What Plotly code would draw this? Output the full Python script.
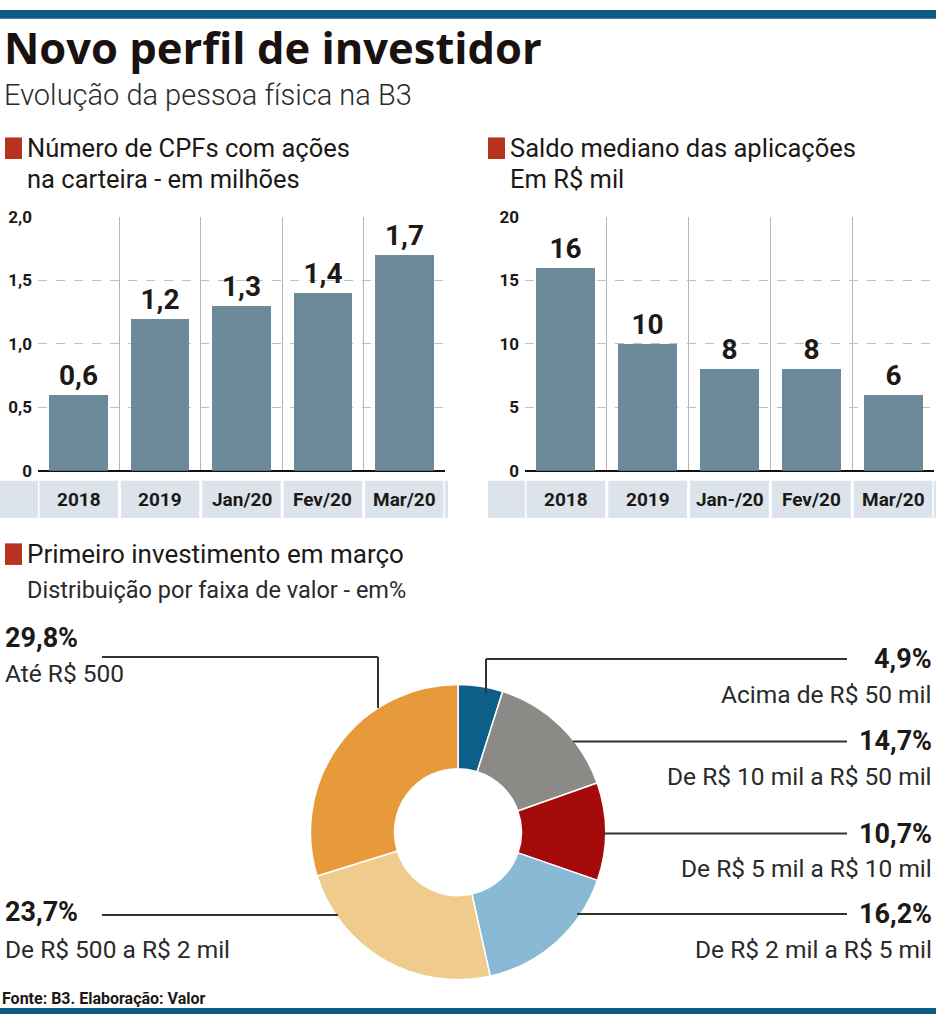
import plotly.graph_objects as go

W, H = 936, 1024

# ---- data ----
cat_left = ["2018", "2019", "Jan/20", "Fev/20", "Mar/20"]
cpf_millions = [0.6, 1.2, 1.3, 1.4, 1.7]
cpf_labels = ["0,6", "1,2", "1,3", "1,4", "1,7"]
left_ticks = [0, 0.5, 1.0, 1.5, 2.0]
left_ticktext = ["0", "0,5", "1,0", "1,5", "2,0"]

cat_right = ["2018", "2019", "Jan-/20", "Fev/20", "Mar/20"]
saldo_mil = [16, 10, 8, 8, 6]
saldo_labels = ["16", "10", "8", "8", "6"]
right_ticks = [0, 5, 10, 15, 20]
right_ticktext = ["0", "5", "10", "15", "20"]

pie_labels = ["Acima de R$ 50 mil", "De R$ 10 mil a R$ 50 mil", "De R$ 5 mil a R$ 10 mil",
              "De R$ 2 mil a R$ 5 mil", "De R$ 500 a R$ 2 mil", "Até R$ 500"]
pie_values = [4.9, 14.7, 10.7, 16.2, 23.7, 29.8]
pie_pct_text = ["4,9%", "14,7%", "10,7%", "16,2%", "23,7%", "29,8%"]
pie_colors = ["#0d5f89", "#8b8a86", "#a40a0a", "#88b9d5", "#efcb8e", "#e79a3a"]

# ---- style ----
BAR = "#6c8a9a"
STRIP = "#dce3ea"
DARK = "#1c1917"
RED = "#b8331f"
NAVY = "#0b5a80"
FONT = "Roboto"


def px(x):
    return x / W


def py(y):
    return 1 - y / H


fig = go.Figure()

fig.add_trace(go.Bar(x=list(range(len(cat_left))), y=cpf_millions, text=cpf_labels,
                     textposition="outside", cliponaxis=False, width=0.72,
                     marker=dict(color=BAR, line=dict(width=0)),
                     textfont=dict(family=FONT, size=28, color=DARK, weight="bold"),
                     xaxis="x", yaxis="y", hoverinfo="skip", showlegend=False))
fig.add_trace(go.Bar(x=list(range(len(cat_right))), y=saldo_mil, text=saldo_labels,
                     textposition="outside", cliponaxis=False, width=0.72,
                     marker=dict(color=BAR, line=dict(width=0)),
                     textfont=dict(family=FONT, size=28, color=DARK, weight="bold"),
                     xaxis="x2", yaxis="y2", hoverinfo="skip", showlegend=False))

fig.add_trace(go.Pie(values=pie_values, labels=pie_labels, sort=False, direction="clockwise",
                     rotation=0, hole=0.43, textinfo="none", hoverinfo="skip",
                     marker=dict(colors=pie_colors, line=dict(color="white", width=1.5)),
                     domain=dict(x=[px(307.5), px(608.5)], y=[py(989), py(688)]),
                     showlegend=False))

ydom = [py(470), py(211)]
common_x = dict(range=[-0.5, 4.5], showticklabels=False, showgrid=False, zeroline=False,
                ticks="", fixedrange=True,
                minor=dict(tickvals=[-0.5, 0.5, 1.5, 2.5, 3.5, 4.5], showgrid=True,
                           gridcolor="#b5b5b5", gridwidth=1))
common_y = dict(showgrid=True, griddash="dash", gridcolor="#c0c0c0", gridwidth=1,
                zeroline=True, zerolinecolor="#111111", zerolinewidth=2,
                tickfont=dict(family=FONT, size=17, color=DARK, weight="bold"),
                ticks="", ticklabelstandoff=5, fixedrange=True)

fig.update_layout(
    width=W, height=H, margin=dict(l=0, r=0, t=0, b=0),
    paper_bgcolor="white", plot_bgcolor="white", bargap=0,
    xaxis=dict(domain=[px(38), px(445)], anchor="y", **common_x),
    yaxis=dict(domain=ydom, range=[0, 2.0], tickvals=left_ticks, ticktext=left_ticktext,
               anchor="x", **common_y),
    xaxis2=dict(domain=[px(525), px(934)], anchor="y2", **common_x),
    yaxis2=dict(domain=ydom, range=[0, 20], tickvals=right_ticks, ticktext=right_ticktext,
                anchor="x2", **common_y),
)

shapes = []
ann = []

# top / bottom navy bars
shapes.append(dict(type="rect", xref="paper", yref="paper", x0=0, x1=1, y0=py(9), y1=1,
                   fillcolor=NAVY, line=dict(width=0), layer="above"))
shapes.append(dict(type="rect", xref="paper", yref="paper", x0=0, x1=1, y0=0, y1=py(1018),
                   fillcolor=NAVY, line=dict(width=0), layer="above"))

# category strips
for xa, x0p, x1p, cats in (("x", 0, 448, cat_left), ("x2", 488, 936, cat_right)):
    shapes.append(dict(type="rect", xref="paper", yref="paper", x0=px(x0p), x1=px(x1p),
                       y0=py(518), y1=py(480), fillcolor=STRIP, line=dict(width=0), layer="below"))
    for v in [-0.5, 0.5, 1.5, 2.5, 3.5, 4.5]:
        shapes.append(dict(type="line", xref=xa, yref="paper", x0=v, x1=v,
                           y0=py(518), y1=py(480), line=dict(color="white", width=3)))
    for i, c in enumerate(cats):
        ann.append(dict(x=i, y=py(499), xref=xa, yref="paper", text=c, showarrow=False,
                        xanchor="center", yanchor="middle",
                        font=dict(family=FONT, size=19, color=DARK, weight="bold")))

# titles
ann.append(dict(x=px(2), y=py(38), xref="paper", yref="paper", text="<b>Novo perfil de investidor</b>",
                showarrow=False, xanchor="left", yanchor="middle",
                font=dict(family="Open Sans", size=43.5, color="#1a1210", weight=800)))
ann.append(dict(x=px(2), y=py(87), xref="paper", yref="paper", text="Evolução da pessoa física na B3",
                showarrow=False, xanchor="left", yanchor="middle",
                font=dict(family=FONT, size=29, color="#2a2a2a", weight=300)))

def header(xl, ytop, lines, size=25.5):
    shapes.append(dict(type="rect", xref="paper", yref="paper", x0=px(xl), x1=px(xl + 17),
                       y0=py(ytop + 22), y1=py(ytop), fillcolor=RED, line=dict(width=0)))
    for k, t in enumerate(lines):
        ann.append(dict(x=px(xl + 20), y=py(ytop + 11 + 31 * k), xref="paper", yref="paper",
                        text=t, showarrow=False, xanchor="left", yanchor="middle",
                        font=dict(family=FONT, size=size, color=DARK)))

header(5, 130, ["Número de CPFs com ações", "na carteira - em milhões"])
header(488, 130, ["Saldo mediano das aplicações", "Em R$ mil"])
header(5, 544, ["Primeiro investimento em março"], size=26)
ann.append(dict(x=px(25), y=py(592), xref="paper", yref="paper",
                text="Distribuição por faixa de valor - em%", showarrow=False,
                xanchor="left", yanchor="middle",
                font=dict(family=FONT, size=23.5, color="#2a2a2a")))

# pie callouts
LINE = dict(color="#333333", width=2)
def hline(x0, x1, y):
    shapes.append(dict(type="line", xref="paper", yref="paper", x0=px(x0), x1=px(x1),
                       y0=py(y), y1=py(y), line=LINE))
def vline(x, y0, y1):
    shapes.append(dict(type="line", xref="paper", yref="paper", x0=px(x), x1=px(x),
                       y0=py(y0), y1=py(y1), line=LINE))

PCT_SIZE = 27
LAB_SIZE = 24.5

right_rows = [(662, 486), (746, 573), (840, 603), (922, 577)]
for i, (yl, xs) in enumerate(right_rows):
    hline(xs, 847, yl)
    ann.append(dict(x=px(934), y=py(yl), xref="paper", yref="paper", text="<b>" + pie_pct_text[i] + "</b>",
                    showarrow=False, xanchor="right", yanchor="middle",
                    font=dict(family=FONT, size=PCT_SIZE, color=DARK)))
    ann.append(dict(x=px(934), y=py(yl + 36), xref="paper", yref="paper", text=pie_labels[i],
                    showarrow=False, xanchor="right", yanchor="middle",
                    font=dict(family=FONT, size=LAB_SIZE, color="#2a2a2a")))
vline(486, 662, 697)

hline(102, 378, 660)
vline(378, 660, 712)
ann.append(dict(x=px(3), y=py(641), xref="paper", yref="paper", text="<b>" + pie_pct_text[5] + "</b>",
                showarrow=False, xanchor="left", yanchor="middle",
                font=dict(family=FONT, size=PCT_SIZE, color=DARK)))
ann.append(dict(x=px(3), y=py(677), xref="paper", yref="paper", text=pie_labels[5],
                showarrow=False, xanchor="left", yanchor="middle",
                font=dict(family=FONT, size=LAB_SIZE, color="#2a2a2a")))

hline(102, 338, 923)
ann.append(dict(x=px(3), y=py(920), xref="paper", yref="paper", text="<b>" + pie_pct_text[4] + "</b>",
                showarrow=False, xanchor="left", yanchor="middle",
                font=dict(family=FONT, size=PCT_SIZE, color=DARK)))
ann.append(dict(x=px(3), y=py(958), xref="paper", yref="paper", text=pie_labels[4],
                showarrow=False, xanchor="left", yanchor="middle",
                font=dict(family=FONT, size=LAB_SIZE, color="#2a2a2a")))

# footer
ann.append(dict(x=px(0), y=py(1008), xref="paper", yref="paper", text="<b>Fonte: B3. Elaboração: Valor</b>",
                showarrow=False, xanchor="left", yanchor="middle",
                font=dict(family=FONT, size=16, color=DARK)))

fig.update_layout(shapes=shapes, annotations=ann)
fig.write_html("out.html", config={"displayModeBar": False},
               post_script="document.body.style.margin='0';document.body.style.overflow='hidden';")
